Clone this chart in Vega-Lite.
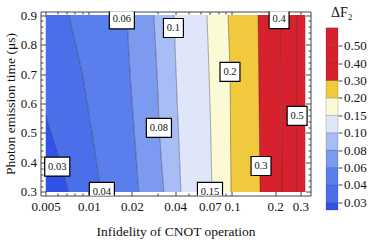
{
  "$schema": "https://vega.github.io/schema/vega-lite/v6.json",
  "padding": {"left": 2.5, "top": 5.5, "right": 0, "bottom": 0},
  "spacing": 15.5,
  "bounds": "flush",
  "config": {
    "font": "Liberation Serif",
    "view": {"stroke": "#444", "strokeWidth": 1},
    "axis": {
      "labelFont": "Liberation Serif", "labelFontSize": 13, "labelColor": "#111",
      "titleFont": "Liberation Serif", "titleFontSize": 13.5, "titleFontWeight": "normal", "titleColor": "#111",
      "grid": false, "domain": false, "tickColor": "#444", "labelOverlap": false, "labelFlush": false
    },
    "axisX": {"labelFontSize": 13, "labelFlush": false, "labelOverlap": false},
    "axisY": {"labelFontSize": 13, "labelFlush": false, "labelOverlap": false}
  },
  "datasets": {
    "bands": [
      {"level": "0", "y": 0.3, "x": 0.005, "x2": 0.00725},
      {"level": "0", "y": 0.4, "x": 0.005, "x2": 0.00634},
      {"level": "0", "y": 0.5, "x": 0.005, "x2": 0.00546},
      {"level": "0", "y": 0.56, "x": 0.005, "x2": 0.005},
      {"level": "0.03", "y": 0.3, "x": 0.00725, "x2": 0.01213},
      {"level": "0.03", "y": 0.4, "x": 0.00634, "x2": 0.01132},
      {"level": "0.03", "y": 0.5, "x": 0.00546, "x2": 0.01055},
      {"level": "0.03", "y": 0.56, "x": 0.005, "x2": 0.01006},
      {"level": "0.03", "y": 0.6, "x": 0.005, "x2": 0.00976},
      {"level": "0.03", "y": 0.7, "x": 0.005, "x2": 0.00902},
      {"level": "0.03", "y": 0.8, "x": 0.005, "x2": 0.00811},
      {"level": "0.03", "y": 0.9, "x": 0.005, "x2": 0.00725},
      {"level": "0.04", "y": 0.3, "x": 0.01213, "x2": 0.02237},
      {"level": "0.04", "y": 0.4, "x": 0.01132, "x2": 0.02157},
      {"level": "0.04", "y": 0.5, "x": 0.01055, "x2": 0.02081},
      {"level": "0.04", "y": 0.6, "x": 0.00976, "x2": 0.02011},
      {"level": "0.04", "y": 0.7, "x": 0.00902, "x2": 0.01944},
      {"level": "0.04", "y": 0.8, "x": 0.00811, "x2": 0.01892},
      {"level": "0.04", "y": 0.9, "x": 0.00725, "x2": 0.01843},
      {"level": "0.06", "y": 0.3, "x": 0.02237, "x2": 0.03345},
      {"level": "0.06", "y": 0.4, "x": 0.02157, "x2": 0.03223},
      {"level": "0.06", "y": 0.5, "x": 0.02081, "x2": 0.03121},
      {"level": "0.06", "y": 0.6, "x": 0.02011, "x2": 0.03056},
      {"level": "0.06", "y": 0.7, "x": 0.01944, "x2": 0.02998},
      {"level": "0.06", "y": 0.8, "x": 0.01892, "x2": 0.02922},
      {"level": "0.06", "y": 0.9, "x": 0.01843, "x2": 0.02847},
      {"level": "0.08", "y": 0.3, "x": 0.03345, "x2": 0.04398},
      {"level": "0.08", "y": 0.4, "x": 0.03223, "x2": 0.04322},
      {"level": "0.08", "y": 0.5, "x": 0.03121, "x2": 0.04239},
      {"level": "0.08", "y": 0.6, "x": 0.03056, "x2": 0.04152},
      {"level": "0.08", "y": 0.7, "x": 0.02998, "x2": 0.04072},
      {"level": "0.08", "y": 0.8, "x": 0.02922, "x2": 0.04001},
      {"level": "0.08", "y": 0.9, "x": 0.02847, "x2": 0.03929},
      {"level": "0.1", "y": 0.3, "x": 0.04398, "x2": 0.07245},
      {"level": "0.1", "y": 0.4, "x": 0.04322, "x2": 0.07176},
      {"level": "0.1", "y": 0.5, "x": 0.04239, "x2": 0.07107},
      {"level": "0.1", "y": 0.6, "x": 0.04152, "x2": 0.07017},
      {"level": "0.1", "y": 0.7, "x": 0.04072, "x2": 0.06916},
      {"level": "0.1", "y": 0.8, "x": 0.04001, "x2": 0.06806},
      {"level": "0.1", "y": 0.9, "x": 0.03929, "x2": 0.06685},
      {"level": "0.15", "y": 0.3, "x": 0.07245, "x2": 0.0984},
      {"level": "0.15", "y": 0.4, "x": 0.07176, "x2": 0.09809},
      {"level": "0.15", "y": 0.5, "x": 0.07107, "x2": 0.09761},
      {"level": "0.15", "y": 0.6, "x": 0.07017, "x2": 0.0973},
      {"level": "0.15", "y": 0.7, "x": 0.06916, "x2": 0.09699},
      {"level": "0.15", "y": 0.8, "x": 0.06806, "x2": 0.09544},
      {"level": "0.15", "y": 0.9, "x": 0.06685, "x2": 0.09376},
      {"level": "0.2", "y": 0.3, "x": 0.0984, "x2": 0.157},
      {"level": "0.2", "y": 0.4, "x": 0.09809, "x2": 0.1562},
      {"level": "0.2", "y": 0.5, "x": 0.09761, "x2": 0.1552},
      {"level": "0.2", "y": 0.6, "x": 0.0973, "x2": 0.1544},
      {"level": "0.2", "y": 0.7, "x": 0.09699, "x2": 0.1537},
      {"level": "0.2", "y": 0.8, "x": 0.09544, "x2": 0.1527},
      {"level": "0.2", "y": 0.9, "x": 0.09376, "x2": 0.152},
      {"level": "0.3", "y": 0.3, "x": 0.157, "x2": 0.2237},
      {"level": "0.3", "y": 0.5, "x": 0.1552, "x2": 0.2225},
      {"level": "0.3", "y": 0.7, "x": 0.1537, "x2": 0.2213},
      {"level": "0.3", "y": 0.9, "x": 0.152, "x2": 0.2201},
      {"level": "0.4", "y": 0.3, "x": 0.2237, "x2": 0.285},
      {"level": "0.4", "y": 0.9, "x": 0.2201, "x2": 0.285},
      {"level": "0.5", "y": 0.3, "x": 0.285, "x2": 0.325},
      {"level": "0.5", "y": 0.9, "x": 0.285, "x2": 0.325}
    ],
    "labels": [
      {"label": "0.03", "x": 0.00602, "y": 0.386},
      {"label": "0.04", "x": 0.01233, "y": 0.3},
      {"label": "0.06", "x": 0.01701, "y": 0.885},
      {"label": "0.08", "x": 0.03087, "y": 0.517},
      {"label": "0.1", "x": 0.03899, "y": 0.856},
      {"label": "0.15", "x": 0.07017, "y": 0.3},
      {"label": "0.2", "x": 0.0968, "y": 0.707},
      {"label": "0.3", "x": 0.1595, "y": 0.388},
      {"label": "0.4", "x": 0.2132, "y": 0.886},
      {"label": "0.5", "x": 0.2849, "y": 0.558}
    ],
    "legend": [
      {"level": "0", "lo": -0.443, "hi": 0},
      {"level": "0.03", "lo": 0, "hi": 1},
      {"level": "0.04", "lo": 1, "hi": 2},
      {"level": "0.06", "lo": 2, "hi": 3},
      {"level": "0.08", "lo": 3, "hi": 4},
      {"level": "0.1", "lo": 4, "hi": 5},
      {"level": "0.15", "lo": 5, "hi": 6},
      {"level": "0.2", "lo": 6, "hi": 7},
      {"level": "0.3", "lo": 7, "hi": 8},
      {"level": "0.4", "lo": 8, "hi": 9},
      {"level": "0.5", "lo": 9, "hi": 10.03}
    ],
    "legendTitle": [
      {"title": "ΔF₂", "y": 10.65}
    ]
  },
  "hconcat": [
    {
      "width": 270,
      "height": 184,
      "resolve": {"axis": {"x": "independent", "y": "independent"}},
      "layer": [
        {
          "data": {"name": "bands"},
          "mark": {"type": "area", "orient": "horizontal"},
          "encoding": {
            "y": {"field": "y", "type": "quantitative",
              "scale": {"domain": [0.288, 0.912], "nice": false, "zero": false},
              "axis": {"orient": "left",
                "values": [0.3,0.32,0.34,0.36,0.38,0.4,0.42,0.44,0.46,0.48,0.5,0.52,0.54,0.56,0.58,0.6,0.62,0.64,0.66,0.68,0.7,0.72,0.74,0.76,0.78,0.8,0.82,0.84,0.86,0.88,0.9],
                "labelExpr": "abs(datum.value*10 - round(datum.value*10)) < 0.001 ? format(datum.value, '.1f') : ''",
                "tickSize": {"condition": {"test": "abs(datum.value*10 - round(datum.value*10)) < 0.001", "value": -5}, "value": -2.5},
                "labelFont": "Liberation Serif", "labelFontSize": 13, "labelColor": "#111", "labelAlign": "right", "labelBaseline": "middle",
                "titleFont": "Liberation Serif", "titleFontSize": 13.5, "titleFontWeight": "normal", "titleColor": "#111",
                "labelPadding": 9, "title": "Photon emission time (μs)", "titlePadding": 3}},
            "x": {"field": "x", "type": "quantitative",
              "scale": {"type": "log", "domain": [0.004598, 0.35338], "nice": false},
              "axis": {"orient": "bottom",
                "values": [0.005,0.006,0.007,0.008,0.009,0.01,0.02,0.03,0.04,0.05,0.06,0.07,0.08,0.09,0.1,0.2,0.3],
                "labelExpr": "indexof([0.005,0.01,0.02,0.04,0.07,0.1,0.2,0.3], datum.value) >= 0 ? format(datum.value, '~g') : ''",
                "tickSize": {"condition": {"test": "indexof([0.005,0.01,0.02,0.04,0.07,0.1,0.2,0.3], datum.value) >= 0", "value": -5}, "value": -2.5},
                "labelFont": "Liberation Serif", "labelFontSize": 13, "labelColor": "#111", "labelAlign": "center", "labelBaseline": "top",
                "titleFont": "Liberation Serif", "titleFontSize": 13.5, "titleFontWeight": "normal", "titleColor": "#111",
                "labelPadding": 10, "title": "Infidelity of CNOT operation", "titlePadding": 8}},
            "x2": {"field": "x2"},
            "color": {"field": "level", "type": "nominal",
              "scale": {"domain": ["0","0.03","0.04","0.06","0.08","0.1","0.15","0.2","0.3","0.4","0.5"],
                "range": ["#3052e8","#4b6fe9","#5a7eec","#7c9af0","#a8bcf5","#dfe6fa","#fbfad4","#f0c93d","#d7222d","#d7222d","#d7222d"]},
              "legend": null}
          }
        },
        {
          "data": {"name": "bands"},
          "transform": [{"filter": "datum.level != '0' && (datum.x > 0.005 || datum.y < 0.6)"}],
          "mark": {"type": "line", "stroke": "#000", "strokeOpacity": 0.4, "strokeWidth": 0.8},
          "encoding": {
            "y": {"field": "y", "type": "quantitative", "scale": {"domain": [0.288, 0.912], "nice": false, "zero": false}, "axis": null},
            "x": {"field": "x", "type": "quantitative", "scale": {"type": "log", "domain": [0.004598, 0.35338], "nice": false}, "axis": null},
            "detail": {"field": "level"},
            "order": {"field": "y", "type": "quantitative"}
          }
        },
        {
          "data": {"name": "labels"},
          "mark": {"type": "point", "filled": true, "fill": "white", "stroke": "black", "strokeWidth": 1.2, "size": 361, "opacity": 1, "clip": true},
          "encoding": {
            "y": {"field": "y", "type": "quantitative", "scale": {"domain": [0.288, 0.912], "nice": false, "zero": false}, "axis": null},
            "x": {"field": "x", "type": "quantitative", "scale": {"type": "log", "domain": [0.004598, 0.35338], "nice": false}, "axis": null},
            "shape": {"field": "label", "type": "nominal",
              "scale": {"domain": ["0.03","0.04","0.06","0.08","0.1","0.15","0.2","0.3","0.4","0.5"],
                "range": ["M-1.32,-1H1.32V1H-1.32Z","M-1.32,-1H1.32V1H-1.32Z","M-1.32,-1H1.32V1H-1.32Z","M-1.32,-1H1.32V1H-1.32Z","M-1.05,-1H1.05V1H-1.05Z","M-1.32,-1H1.32V1H-1.32Z","M-1.05,-1H1.05V1H-1.05Z","M-1.05,-1H1.05V1H-1.05Z","M-1.05,-1H1.05V1H-1.05Z","M-1.05,-1H1.05V1H-1.05Z"]},
              "legend": null}
          }
        },
        {
          "data": {"name": "labels"},
          "mark": {"type": "text", "font": "Liberation Serif", "fontSize": 10.5, "color": "#111", "align": "center", "baseline": "middle", "clip": true},
          "encoding": {
            "y": {"field": "y", "type": "quantitative", "scale": {"domain": [0.288, 0.912], "nice": false, "zero": false},
              "axis": {"orient": "right", "labels": false, "title": null,
                "values": [0.3,0.32,0.34,0.36,0.38,0.4,0.42,0.44,0.46,0.48,0.5,0.52,0.54,0.56,0.58,0.6,0.62,0.64,0.66,0.68,0.7,0.72,0.74,0.76,0.78,0.8,0.82,0.84,0.86,0.88,0.9],
                "tickSize": {"condition": {"test": "abs(datum.value*10 - round(datum.value*10)) < 0.001", "value": -5}, "value": -2.5}}},
            "x": {"field": "x", "type": "quantitative", "scale": {"type": "log", "domain": [0.004598, 0.35338], "nice": false},
              "axis": {"orient": "top", "labels": false, "title": null,
                "values": [0.005,0.006,0.007,0.008,0.009,0.01,0.02,0.03,0.04,0.05,0.06,0.07,0.08,0.09,0.1,0.2,0.3],
                "tickSize": {"condition": {"test": "indexof([0.005,0.01,0.02,0.04,0.07,0.1,0.2,0.3], datum.value) >= 0", "value": -5}, "value": -2.5}}},
            "text": {"field": "label"}
          }
        }
      ]
    },
    {
      "width": 12,
      "height": 198.5,
      "view": {"stroke": null},
      "resolve": {"axis": {"y": "independent"}},
      "layer": [
        {
          "data": {"name": "legend"},
          "mark": {"type": "rect", "stroke": "#000", "strokeOpacity": 0.2, "strokeWidth": 0.8},
          "encoding": {
            "y": {"field": "lo", "type": "quantitative",
              "scale": {"domain": [-0.443, 10.966], "nice": false, "zero": false},
              "axis": {"orient": "right", "values": [0,1,2,3,4,5,6,7,8,9],
                "labelExpr": "['0.03','0.04','0.06','0.08','0.10','0.15','0.20','0.30','0.40','0.50'][datum.value]",
                "labelFont": "Liberation Serif", "labelFontSize": 13, "labelColor": "#111", "labelOverlap": false, "labelFlush": false,
                "tickSize": 4, "labelPadding": 1.5, "title": null}},
            "y2": {"field": "hi"},
            "color": {"field": "level", "type": "nominal",
              "scale": {"domain": ["0","0.03","0.04","0.06","0.08","0.1","0.15","0.2","0.3","0.4","0.5"],
                "range": ["#3052e8","#4b6fe9","#5a7eec","#7c9af0","#a8bcf5","#dfe6fa","#fbfad4","#f0c93d","#d7222d","#d7222d","#d7222d"]},
              "legend": null}
          }
        },
        {
          "data": {"name": "legendTitle"},
          "mark": {"type": "text", "font": "Liberation Serif", "fontSize": 14, "color": "#111", "align": "left", "baseline": "alphabetic", "dx": -1},
          "encoding": {
            "y": {"field": "y", "type": "quantitative", "scale": {"domain": [-0.443, 10.966], "nice": false, "zero": false}, "axis": null},
            "text": {"field": "title"}
          }
        }
      ]
    }
  ]
}
